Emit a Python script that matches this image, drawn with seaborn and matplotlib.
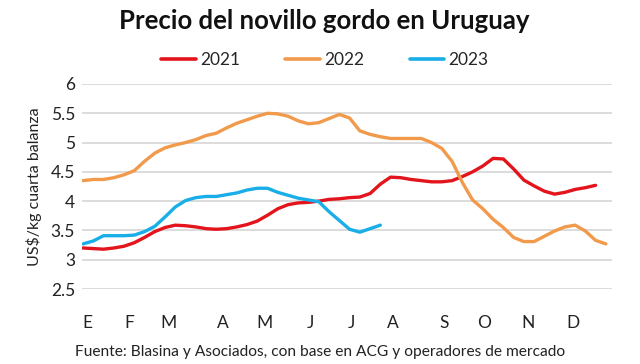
import pandas as pd
import seaborn as sns
import matplotlib.pyplot as plt

MONTHS = ["E", "F", "M", "A", "M", "J", "J", "A", "S", "O", "N", "D"]
MONTH_WEEK = [0.4, 4.5, 8.3, 13.6, 17.7, 22.2, 26.2, 30.2, 35.2, 39.1, 43.4, 47.8]

y2021 = [3.20, 3.19, 3.18, 3.20, 3.23, 3.29, 3.38, 3.48, 3.55, 3.59,
         3.58, 3.56, 3.53, 3.52, 3.53, 3.56, 3.60, 3.66, 3.76, 3.87,
         3.94, 3.97, 3.98, 4.00, 4.03, 4.04, 4.06, 4.07, 4.13, 4.29,
         4.41, 4.40, 4.37, 4.35, 4.33, 4.33, 4.35, 4.42, 4.50, 4.60,
         4.73, 4.72, 4.55, 4.36, 4.26, 4.17, 4.12, 4.15, 4.20, 4.23,
         4.27]
y2022 = [4.35, 4.37, 4.37, 4.40, 4.45, 4.52, 4.68, 4.82, 4.91, 4.96,
         5.00, 5.05, 5.12, 5.16, 5.25, 5.33, 5.39, 5.45, 5.50, 5.49,
         5.45, 5.37, 5.32, 5.34, 5.41, 5.48, 5.42, 5.20, 5.14, 5.10,
         5.07, 5.07, 5.07, 5.07, 5.00, 4.90, 4.68, 4.32, 4.02, 3.87,
         3.69, 3.55, 3.38, 3.31, 3.31, 3.40, 3.49, 3.56, 3.59, 3.49,
         3.33, 3.27]
y2023 = [3.27, 3.32, 3.41, 3.41, 3.41, 3.42, 3.48, 3.57, 3.73, 3.90,
         4.01, 4.06, 4.08, 4.08, 4.11, 4.14, 4.19, 4.22, 4.22, 4.15,
         4.10, 4.05, 4.02, 3.99, 3.82, 3.67, 3.52, 3.47, 3.53, 3.59]

COLORS = {"2021": "#E3141B", "2022": "#F19A4B", "2023": "#19AEE8"}

rows = []
for year, vals in [("2021", y2021), ("2022", y2022), ("2023", y2023)]:
    for week, v in enumerate(vals):
        rows.append((year, week, v))
df = pd.DataFrame(rows, columns=["year", "week", "price"])

sns.set_theme(style="white")
plt.rcParams["font.family"] = ["Lato", "DejaVu Sans"]

fig = plt.figure(figsize=(6.4, 3.64), dpi=100)
ax = fig.add_axes([82 / 640, 1 - 289 / 364, 530 / 640, 205 / 364])

sns.lineplot(data=df, x="week", y="price", hue="year", palette=COLORS,
             linewidth=2.4, ax=ax, legend=False)

ax.set_xlim(-0.1, 51.6)
ax.set_ylim(2.5, 6)
ax.set_yticks([2.5, 3, 3.5, 4, 4.5, 5, 5.5, 6])
ax.set_yticklabels(["2.5", "3", "3.5", "4", "4.5", "5", "5.5", "6"])
ax.set_xticks(MONTH_WEEK)
ax.set_xticklabels(MONTHS)
ax.tick_params(axis="x", length=0, pad=19, labelsize=12.5, colors="#222222")
ax.tick_params(axis="y", length=0, pad=5, labelsize=12.5, colors="#222222")
ax.grid(axis="y", color="#D9D9D9", linewidth=1.3)
ax.set_axisbelow(True)
for s in ax.spines.values():
    s.set_visible(False)
ax.set_xlabel("")
ax.set_ylabel("US$/kg cuarta balanza", fontsize=11.5, color="#222222", labelpad=6)

handles = [plt.Line2D([], [], color=c, linewidth=2.6) for c in COLORS.values()]
fig.legend(handles, list(COLORS.keys()), loc="center", ncol=3,
           bbox_to_anchor=(325 / 640, 1 - 60 / 364), frameon=False,
           fontsize=12.5, handlelength=2.0, handletextpad=0.25, columnspacing=2.6)

fig.text(324 / 640, 1 - 21 / 364, "Precio del novillo gordo en Uruguay",
         ha="center", va="center", fontsize=18.5, fontweight="bold", color="#111111")
fig.text(320 / 640, 1 - 352 / 364,
         "Fuente: Blasina y Asociados, con base en ACG y operadores de mercado",
         ha="center", va="center", fontsize=11.2, color="#222222")

fig.savefig("out.png", dpi=100)
